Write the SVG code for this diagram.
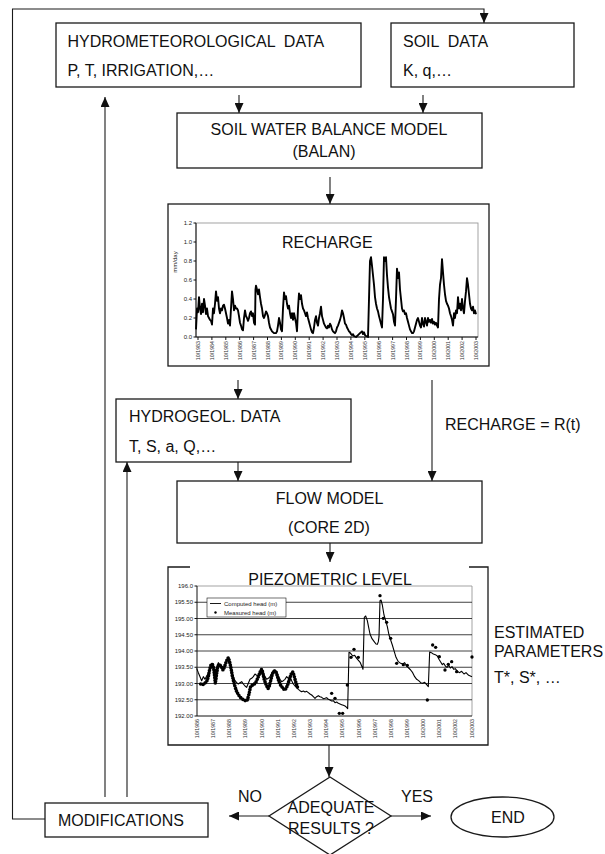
<svg xmlns="http://www.w3.org/2000/svg" width="605" height="854" viewBox="0 0 605 854">
<defs>
<marker id="ah" markerWidth="10" markerHeight="9" refX="10" refY="4.5" orient="auto" markerUnits="userSpaceOnUse"><path d="M0,0 L10,4.5 L0,9 z" fill="#111"/></marker>
</defs>
<style>
.box{fill:#fff;stroke:#1a1a1a;stroke-width:1.3}
.t{font-family:"Liberation Sans",Arial,sans-serif;font-size:16px;fill:#111}
.c{text-anchor:middle}
.ln{fill:none;stroke:#1a1a1a;stroke-width:1.1}
.ar{marker-end:url(#ah)}
.ax{font-family:"Liberation Sans",Arial,sans-serif;font-size:6px;fill:#222}
.xl{font-family:"Liberation Sans",Arial,sans-serif;font-size:5.3px;fill:#333;text-anchor:end}
.yl{text-anchor:end}
.grid{stroke:#111;stroke-width:0.8}
.axis{stroke:#111;stroke-width:1;fill:none}
.pa{fill:none;stroke:#999;stroke-width:0.9}
</style>
<rect width="605" height="854" fill="#fff"/>

<g id="connectors">
<path class="ln ar" d="M45,819 H12.5 V9 H484 V23"/>
<path class="ln ar" d="M105,797 V97"/>
<path class="ln ar" d="M127,797 V462"/>
<path class="ln ar" d="M239,95 V113"/>
<path class="ln ar" d="M423,95 V113"/>
<path class="ln ar" d="M330,177 V204"/>
<path class="ln ar" d="M238,380 V399"/>
<path class="ln ar" d="M432,380 V481"/>
<path class="ln ar" d="M238,462 V481"/>
<path class="ln ar" d="M330,543 V562"/>
<path class="ln ar" d="M329,745 V777"/>
<path class="ln ar" d="M269,816 H229"/>
<path class="ln ar" d="M391,816 H431"/>
</g>

<g id="hydromet">
<rect class="box" x="56" y="23" width="305" height="64"/>
<text class="t" x="67.5" y="47" xml:space="preserve">HYDROMETEOROLOGICAL  DATA</text>
<text class="t" x="67.5" y="76">P, T, IRRIGATION,…</text>
</g>

<g id="soil">
<rect class="box" x="391" y="23" width="183" height="64"/>
<text class="t" x="403" y="47" xml:space="preserve">SOIL  DATA</text>
<text class="t" x="403" y="76">K, q,…</text>
</g>

<g id="balan">
<rect class="box" x="177" y="113" width="305" height="55"/>
<text class="t c" x="329" y="135">SOIL WATER BALANCE MODEL</text>
<text class="t c" x="324" y="157">(BALAN)</text>
</g>

<g id="recharge-chart">
<rect class="box" x="168" y="204" width="321" height="162"/>
<rect class="pa" x="196" y="223" width="282" height="114"/>
<path class="axis" d="M196,223 V337 H478"/>
<path class="axis" d="M193.5,223 H196 M193.5,242 H196 M193.5,261 H196 M193.5,280 H196 M193.5,299 H196 M193.5,318 H196 M193.5,337 H196"/>
<g class="ax yl">
<text x="192" y="225">1.2</text><text x="192" y="244">1.0</text><text x="192" y="263">0.8</text><text x="192" y="282">0.6</text><text x="192" y="301">0.4</text><text x="192" y="320">0.2</text><text x="192" y="339">0.0</text>
</g>
<text class="ax" transform="translate(177,262) rotate(-90)" text-anchor="middle" font-size="5.5">mm/day</text>
<path class="axis" stroke-width="0.7" d="M198,337 v3 M211.9,337 v3 M225.8,337 v3 M239.7,337 v3 M253.6,337 v3 M267.5,337 v3 M281.4,337 v3 M295.3,337 v3 M309.2,337 v3 M323.1,337 v3 M337,337 v3 M350.9,337 v3 M364.8,337 v3 M378.7,337 v3 M392.6,337 v3 M406.5,337 v3 M420.4,337 v3 M434.3,337 v3 M448.2,337 v3 M462.1,337 v3 M476,337 v3"/>
<g class="xl">
<text transform="translate(200,341) rotate(-90)">10/1983</text>
<text transform="translate(213.9,341) rotate(-90)">10/1984</text>
<text transform="translate(227.8,341) rotate(-90)">10/1985</text>
<text transform="translate(241.7,341) rotate(-90)">10/1986</text>
<text transform="translate(255.6,341) rotate(-90)">10/1987</text>
<text transform="translate(269.5,341) rotate(-90)">10/1988</text>
<text transform="translate(283.4,341) rotate(-90)">10/1989</text>
<text transform="translate(297.3,341) rotate(-90)">10/1990</text>
<text transform="translate(311.2,341) rotate(-90)">10/1991</text>
<text transform="translate(325.1,341) rotate(-90)">10/1992</text>
<text transform="translate(339,341) rotate(-90)">10/1993</text>
<text transform="translate(352.9,341) rotate(-90)">10/1994</text>
<text transform="translate(366.8,341) rotate(-90)">10/1995</text>
<text transform="translate(380.7,341) rotate(-90)">10/1996</text>
<text transform="translate(394.6,341) rotate(-90)">10/1997</text>
<text transform="translate(408.5,341) rotate(-90)">10/1998</text>
<text transform="translate(422.4,341) rotate(-90)">10/1999</text>
<text transform="translate(436.3,341) rotate(-90)">10/2000</text>
<text transform="translate(450.2,341) rotate(-90)">10/2001</text>
<text transform="translate(464.1,341) rotate(-90)">10/2002</text>
<text transform="translate(478,341) rotate(-90)">10/2003</text>
</g>
<path fill="none" stroke="#000" stroke-width="1.9" stroke-linejoin="round" transform="matrix(1 0 0 -0.95 0 337)" d="M196,8 L197,30 L198,26 L199,42 L200,30 L201,24 L202,35 L203,26 L204,40 L205,33 L206,24 L207,30 L208,22 L209,20 L210,18 L211,17 L212,13 L213,30 L214,25 L215,35 L216,48 L217,38 L218,42 L219,30 L220,25 L221,30 L222,28 L223,33 L224,34 L225,30 L226,25 L227,20 L228,14 L229,18 L230,12 L231,30 L232,48 L233,40 L234,28 L235,33 L236,30 L237,30 L238,28 L239,22 L240,15 L241,12 L242,8 L243,7 L244,20 L245,28 L246,22 L247,20 L248,17 L249,20 L250,25 L251,27 L252,22 L253,25 L254,15 L255,13 L255.5,50 L256,54 L257,50 L258,45 L259,50 L260,42 L261,35 L262,30 L263,22 L264,20 L265,23 L266,27 L267,25 L268,22 L269,15 L270,10 L272,6 L274,4 L276,4 L277,6 L278,12 L279,20 L280,15 L281,8 L282,6 L283,30 L284,47 L285,40 L286,43 L287,35 L288,30 L289,33 L290,25 L291,20 L292,25 L293,18 L294,25 L295,20 L296,15 L297,6 L298,30 L299,46 L300,40 L301,44 L302,35 L303,30 L304,28 L305,25 L306,22 L307,26 L308,20 L309,16 L310,12 L311,8 L312,5 L313,4 L314,10 L315,18 L316,22 L317,15 L318,12 L319,20 L320,25 L321,32 L322,22 L323,18 L324,14 L325,12 L326,10 L327,9 L328,12 L329,10 L330,14 L331,12 L332,8 L333,6 L334,5 L335,4 L336,6 L337,10 L338,12 L339,15 L340,18 L341,22 L342,28 L343,25 L344,20 L345,14 L346,13 L347,10 L348,8 L349,6 L350,5 L351,3 L352,2 L353,3 L354,1 L356,0 L358,2 L360,4 L362,6 L363,3 L364,5 L365,2 L366,1 L368,0 L369,40 L370,80 L371,84 L372,75 L373,65 L374,55 L375,42 L376,35 L377,30 L378,27 L379,22 L380,18 L381,14 L382,10 L383,40 L384,84 L385,80 L386,84 L387,65 L388,52 L389,42 L390,36 L391,30 L392,27 L393,24 L394,16 L395,12 L396,40 L397,72 L398,62 L399,68 L400,50 L401,40 L402,30 L403,27 L404,28 L405,24 L406,25 L407,20 L408,16 L409,12 L410,8 L411,6 L412,4 L413,4 L414,6 L415,10 L416,14 L417,18 L418,20 L419,16 L420,12 L421,10 L422,20 L423,14 L424,11 L425,20 L426,16 L427,12 L428,20 L429,16 L430,18 L431,15 L432,19 L433,14 L434,16 L435,13 L436,15 L437,12 L438,10 L439,40 L440,55 L441,62 L442,82 L443,68 L444,55 L445,45 L446,38 L447,35 L448,33 L449,30 L450,25 L451,22 L452,18 L453,12 L454,25 L455,20 L456,28 L457,25 L458,42 L459,30 L460,35 L461,28 L462,40 L463,30 L464,25 L465,38 L466,48 L467,62 L468,55 L469,45 L470,35 L471,30 L472,28 L473,32 L474,25 L475,28 L476,24"/>
<text class="t" x="282" y="248">RECHARGE</text>
</g>

<g id="hydrogeol">
<rect class="box" x="116" y="399" width="235" height="63"/>
<text class="t" x="129" y="422">HYDROGEOL. DATA</text>
<text class="t" x="129" y="452">T, S, a, Q,…</text>
</g>

<g id="recharge-label">
<text class="t" x="445" y="430">RECHARGE = R(t)</text>
</g>

<g id="flow">
<rect class="box" x="177" y="481" width="305" height="62"/>
<text class="t c" x="329.5" y="504">FLOW MODEL</text>
<text class="t c" x="329" y="533">(CORE 2D)</text>
</g>

<g id="piezo-chart">
<path fill="#fff" stroke="none" d="M168,567 H488 V745 H168 Z"/>
<path fill="none" stroke="#1a1a1a" stroke-width="1.3" d="M190,567 H168 V745 H488 V567 H469"/>
<text class="t c" x="330" y="585">PIEZOMETRIC LEVEL</text>
<path class="pa" d="M197,586 H472 V716"/>
<g class="grid">
<path d="M197,602.25 H472 M197,618.5 H472 M197,634.75 H472 M197,651 H472 M197,667.25 H472 M197,683.5 H472 M197,699.75 H472"/>
</g>
<path class="axis" d="M197,586 V716 H472"/>
<path class="axis" stroke-width="0.7" d="M194.5,586 H197 M194.5,602.25 H197 M194.5,618.5 H197 M194.5,634.75 H197 M194.5,651 H197 M194.5,667.25 H197 M194.5,683.5 H197 M194.5,699.75 H197 M194.5,716 H197"/>
<g class="ax yl" font-size="5.5">
<text x="193" y="588">196.0</text><text x="193" y="604.2">195.50</text><text x="193" y="620.5">195.00</text><text x="193" y="636.7">194.50</text><text x="193" y="653">194.00</text><text x="193" y="669.2">193.50</text><text x="193" y="685.5">193.00</text><text x="193" y="701.7">192.50</text><text x="193" y="718">192.00</text>
</g>
<g class="xl">
<text transform="translate(199,719) rotate(-90)">10/1986</text>
<text transform="translate(215.15,719) rotate(-90)">10/1987</text>
<text transform="translate(231.3,719) rotate(-90)">10/1988</text>
<text transform="translate(247.45,719) rotate(-90)">10/1989</text>
<text transform="translate(263.6,719) rotate(-90)">10/1990</text>
<text transform="translate(279.75,719) rotate(-90)">10/1991</text>
<text transform="translate(295.9,719) rotate(-90)">10/1992</text>
<text transform="translate(312.05,719) rotate(-90)">10/1993</text>
<text transform="translate(328.2,719) rotate(-90)">10/1994</text>
<text transform="translate(344.35,719) rotate(-90)">10/1995</text>
<text transform="translate(360.5,719) rotate(-90)">10/1996</text>
<text transform="translate(376.65,719) rotate(-90)">10/1997</text>
<text transform="translate(392.8,719) rotate(-90)">10/1998</text>
<text transform="translate(408.95,719) rotate(-90)">10/1999</text>
<text transform="translate(425.1,719) rotate(-90)">10/2000</text>
<text transform="translate(441.25,719) rotate(-90)">10/2001</text>
<text transform="translate(457.4,719) rotate(-90)">10/2002</text>
<text transform="translate(473.55,719) rotate(-90)">10/2003</text>
</g>
<g transform="translate(180 530) scale(0.33333)">
<path fill="none" stroke="#000" stroke-width="3.3" stroke-linejoin="round" d="M50,415 L55,428 L60,440 L65,452 L70,440 L75,448 L80,438 L85,430 L90,415 L95,400 L100,410 L105,425 L110,412 L115,398 L120,405 L125,415 L130,420 L135,405 L140,392 L145,382 L150,398 L155,420 L160,440 L165,452 L170,458 L175,462 L180,458 L185,455 L190,462 L195,468 L200,472 L205,460 L210,448 L215,445 L220,440 L225,432 L230,436 L235,438 L240,430 L245,420 L250,428 L255,440 L260,448 L265,445 L270,440 L275,430 L280,422 L285,420 L290,425 L295,438 L300,448 L305,455 L310,452 L315,448 L320,440 L325,445 L330,440 L335,452 L340,462 L345,468 L350,472 L355,478 L360,482 L365,485 L370,483 L375,486 L380,484 L385,488 L390,492 L395,495 L400,500 L405,505 L410,500 L415,497 L420,500 L425,502 L430,506 L435,505 L440,503 L445,508 L450,510 L455,513 L460,512 L465,518 L470,516 L475,520 L480,522 L485,524 L490,526 L495,528 L500,532 L503,536 L507,367 L512,370 L518,378 L524,376 L530,385 L536,392 L541,398 L546,410 L549,418 L553,262 L557,258 L562,272 L566,292 L570,312 L576,326 L582,334 L588,342 L592,343 L595,335 L597,320 L600,212 L603,210 L607,225 L612,255 L617,272 L622,290 L627,315 L632,330 L637,345 L642,362 L648,382 L655,395 L662,400 L668,402 L674,398 L680,408 L686,414 L692,420 L698,428 L704,440 L710,448 L716,452 L722,458 L728,460 L734,457 L740,464 L745,470 L749,366 L754,368 L760,372 L766,374 L772,378 L777,388 L782,396 L787,404 L791,400 L796,408 L801,412 L806,406 L811,414 L816,410 L821,418 L826,416 L832,424 L838,428 L845,424 L852,432 L858,428 L866,436 L876,440"/>
<path fill="none" stroke="#000" stroke-width="11" stroke-linecap="round" stroke-dasharray="0 8" d="M62,462 L68,464 L74,460 L80,455 L85,440 L89,418 L93,405 L97,402 L101,415 L104,440 L106,460 L109,438 L113,410 L117,403 L121,406 L125,412 L129,420 L133,412 L137,400 L141,390 L145,383 L148,392 L151,405 L154,420 L157,438 L161,455 L165,470 L169,482 L173,490 L177,497 L181,502 L186,506 L191,510 L196,512 L201,512 L205,500 L208,488 L211,472 L215,466 L219,465 L223,462 L227,458 L231,450 L235,440 L239,430 L243,420 L246,418 L249,432 L252,446 L256,458 L260,468 L264,476 L268,468 L272,452 L276,436 L280,426 L284,422 L288,426 L292,438 L296,452 L300,462 L305,470 L310,476 L315,480 L319,474 L323,464 L327,452 L331,440 L335,428 L339,426 L343,440 L347,455 L351,468 L355,478"/>
<g fill="#000">
<circle cx="455" cy="490" r="5"/><circle cx="465" cy="505" r="5"/><circle cx="478" cy="550" r="5"/><circle cx="488" cy="550" r="5"/><circle cx="502" cy="465" r="5"/><circle cx="513" cy="382" r="5"/><circle cx="522" cy="358" r="5"/><circle cx="535" cy="382" r="5"/><circle cx="600" cy="197" r="5"/><circle cx="610" cy="265" r="5"/><circle cx="620" cy="277" r="5"/><circle cx="632" cy="325" r="5"/><circle cx="650" cy="400" r="5"/><circle cx="670" cy="404" r="5"/><circle cx="682" cy="406" r="5"/><circle cx="742" cy="510" r="5"/><circle cx="758" cy="345" r="5"/><circle cx="767" cy="352" r="5"/><circle cx="778" cy="380" r="5"/><circle cx="795" cy="420" r="5"/><circle cx="805" cy="403" r="5"/><circle cx="815" cy="395" r="5"/><circle cx="830" cy="425" r="5"/><circle cx="876" cy="381" r="5"/>
</g>
</g>
<rect x="207" y="598" width="79" height="19" fill="#fff" stroke="#111" stroke-width="0.6"/>
<path d="M210,603.5 H221" stroke="#000" stroke-width="0.9"/>
<circle cx="215.5" cy="612.5" r="1.2" fill="#000"/>
<text class="ax" x="224" y="605.5" font-size="5.3">Computed head (m)</text>
<text class="ax" x="224" y="614.5" font-size="5.3">Measured head (m)</text>
</g>

<g id="estimated">
<text class="t" x="494" y="638">ESTIMATED</text>
<text class="t" x="494" y="657">PARAMETERS</text>
<text class="t" x="494" y="683">T*, S*, …</text>
</g>

<g id="modifications">
<rect class="box" x="45" y="803" width="163" height="34"/>
<text class="t" x="58" y="826">MODIFICATIONS</text>
</g>

<g id="decision">
<polygon class="box" points="330,777 391,816 330,855 269,816"/>
<text class="t c" x="331" y="813">ADEQUATE</text>
<text class="t c" x="331" y="834">RESULTS ?</text>
</g>
<text class="t" x="238" y="802">NO</text>
<text class="t" x="401" y="802">YES</text>

<g id="end">
<ellipse class="box" cx="502.5" cy="817" rx="51.5" ry="20"/>
<text class="t c" x="508" y="823">END</text>
</g>
</svg>
